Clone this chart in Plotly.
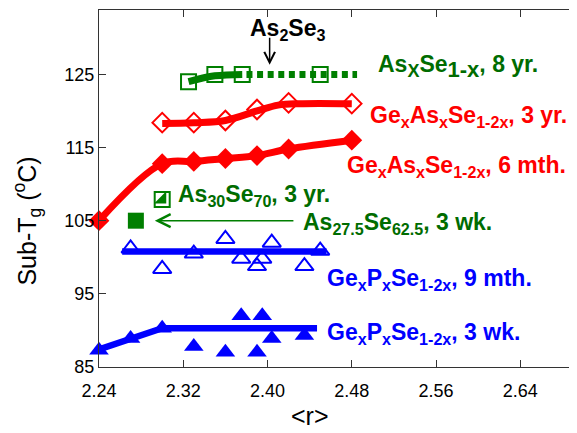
import plotly.graph_objects as go

# ---------------- data ----------------
# As_xSe_(1-x), 8 yr.
r_asse_sq = [2.325, 2.35, 2.376, 2.45]
t_asse_sq = [124.0, 125.0, 125.0, 125.0]
r_asse_fit = [2.325, 2.35, 2.376]
t_asse_fit = [124.0, 124.8, 125.0]
r_asse_dot = [2.38, 2.485]
t_asse_dot = [125.0, 125.0]

# Ge_xAs_xSe_(1-2x), 3 yr.
r_geas_3yr = [2.30, 2.33, 2.36, 2.39, 2.42, 2.48]
t_geas_3yr = [118.4, 118.4, 118.7, 120.2, 121.1, 121.0]
r_geas_3yr_fit = [2.30, 2.33, 2.36, 2.39, 2.41, 2.43, 2.48]
t_geas_3yr_fit = [118.3, 118.4, 118.7, 120.0, 120.8, 121.0, 121.0]

# Ge_xAs_xSe_(1-2x), 6 mth.
r_geas_6m = [2.24, 2.30, 2.33, 2.36, 2.39, 2.42, 2.48]
t_geas_6m = [105.0, 112.8, 113.1, 113.5, 113.9, 114.8, 116.0]

# As30Se70, 3 yr.  /  As27.5Se62.5, 3 wk.
r_as30 = [2.30]
t_as30 = [107.9]
r_as275 = [2.275]
t_as275 = [105.0]

# Ge_xP_xSe_(1-2x), 9 mth.
r_gep_9m = [2.27, 2.30, 2.33, 2.36, 2.375, 2.39, 2.395, 2.404, 2.435, 2.45]
t_gep_9m = [101.2, 98.4, 100.5, 102.5, 99.8, 98.8, 99.8, 102.0, 98.8, 100.9]
r_gep_9m_fit = [2.262, 2.456]
t_gep_9m_fit = [100.8, 100.8]

# Ge_xP_xSe_(1-2x), 3 wk.
r_gep_3w = [2.24, 2.27, 2.30, 2.33, 2.36, 2.375, 2.39, 2.395, 2.404, 2.435]
t_gep_3w = [87.3, 88.9, 90.3, 87.8, 87.0, 92.0, 87.0, 92.0, 88.9, 89.3]
r_gep_3w_fit = [2.24, 2.27, 2.30, 2.447]
t_gep_3w_fit = [87.4, 88.8, 90.3, 90.3]

# axis ticks
x_ticks = [2.24, 2.32, 2.40, 2.48, 2.56, 2.64]
x_ticklabels = ["2.24", "2.32", "2.40", "2.48", "2.56", "2.64"]
y_ticks = [85, 95, 105, 115, 125]
y_ticklabels = ["85", "95", "105", "115", "125"]

# labels
lab_text = [
    "As<sub>2</sub>Se<sub>3</sub>",
    "As<sub><span style='font-size:18px'>X</span></sub>Se<sub><span style='font-size:22px'>1-x</span></sub>, 8 yr.",
    "Ge<sub>x</sub>As<sub>x</sub>Se<sub>1-2x</sub>, 3 yr.",
    "Ge<sub>x</sub>As<sub>x</sub>Se<sub>1-2x</sub>, 6 mth.",
    "As<sub>30</sub>Se<sub>70</sub>, 3 yr.",
    "As<sub>27.5</sub>Se<sub>62.5</sub>, 3 wk.",
    "Ge<sub>x</sub>P<sub>x</sub>Se<sub>1-2x</sub>, 9 mth.",
    "Ge<sub>x</sub>P<sub>x</sub>Se<sub>1-2x</sub>, 3 wk.",
]
lab_x = [2.381, 2.503, 2.495, 2.474, 2.313, 2.432, 2.455, 2.455]
lab_y = [131.2, 126.1, 119.3, 112.4, 108.4, 104.6, 96.9, 89.6]

RED = "#FF0000"
BLUE = "#0000FF"
GREEN = "#007F00"
GREEN_TXT = "#006C00"
lab_col = ["black", GREEN_TXT, RED, RED, GREEN_TXT, GREEN_TXT, BLUE, BLUE]

FONT = "Liberation Sans, Arial, sans-serif"

fig = go.Figure()

# ---- lines ----
fig.add_trace(go.Scatter(x=r_geas_3yr_fit, y=t_geas_3yr_fit, mode="lines",
                         line=dict(color=RED, width=7, shape="spline"), cliponaxis=False))
fig.add_trace(go.Scatter(x=r_geas_6m, y=t_geas_6m, mode="lines",
                         line=dict(color=RED, width=7, shape="spline"), cliponaxis=False))
fig.add_trace(go.Scatter(x=r_gep_9m_fit, y=t_gep_9m_fit, mode="lines",
                         line=dict(color=BLUE, width=6.5), cliponaxis=False))
fig.add_trace(go.Scatter(x=r_gep_3w_fit, y=t_gep_3w_fit, mode="lines",
                         line=dict(color=BLUE, width=6.5), cliponaxis=False))
fig.add_trace(go.Scatter(x=r_asse_fit, y=t_asse_fit, mode="lines",
                         line=dict(color=GREEN, width=7, shape="spline"), cliponaxis=False))
fig.add_trace(go.Scatter(x=r_asse_dot, y=t_asse_dot, mode="lines",
                         line=dict(color=GREEN, width=7, dash="6px,4.6px"), cliponaxis=False))

# ---- markers ----
fig.add_trace(go.Scatter(x=r_asse_sq, y=t_asse_sq, mode="markers",
                         marker=dict(symbol="square-open", size=15, color=GREEN, line=dict(width=2)),
                         cliponaxis=False))
fig.add_trace(go.Scatter(x=r_geas_3yr, y=t_geas_3yr, mode="markers",
                         marker=dict(symbol="diamond-open", size=15, color=RED, line=dict(width=2)),
                         cliponaxis=False))
fig.add_trace(go.Scatter(x=r_geas_6m, y=t_geas_6m, mode="markers",
                         marker=dict(symbol="diamond", size=16, color=RED, line=dict(width=0)),
                         cliponaxis=False))
fig.add_trace(go.Scatter(x=r_as30, y=t_as30, mode="markers",
                         marker=dict(symbol="triangle-se", size=13.5, color=GREEN, line=dict(width=0)),
                         cliponaxis=False))
fig.add_trace(go.Scatter(x=r_as30, y=t_as30, mode="markers",
                         marker=dict(symbol="square-open", size=15, color=GREEN, line=dict(width=2)),
                         cliponaxis=False))
fig.add_trace(go.Scatter(x=r_as275, y=t_as275, mode="markers",
                         marker=dict(symbol="square", size=16, color=GREEN, line=dict(width=0)),
                         cliponaxis=False))
fig.add_trace(go.Scatter(x=r_gep_9m, y=t_gep_9m, mode="markers",
                         marker=dict(symbol="triangle-up-open", size=16, color=BLUE, line=dict(width=2)),
                         cliponaxis=False))
fig.add_trace(go.Scatter(x=r_gep_3w, y=t_gep_3w, mode="markers",
                         marker=dict(symbol="triangle-up", size=17, color=BLUE, line=dict(width=0)),
                         cliponaxis=False))

# ---- text labels ----
for txt, xx, yy, cc in zip(lab_text, lab_x, lab_y, lab_col):
    fig.add_annotation(x=xx, y=yy, xref="x", yref="y", text=txt, showarrow=False,
                       xanchor="left", yanchor="middle",
                       font=dict(family=FONT, size=23, color=cc, weight="bold"))

# arrows
fig.add_annotation(x=2.402, y=126.3, ax=2.402, ay=130.2, xref="x", yref="y", axref="x", ayref="y",
                   text="", showarrow=True, arrowhead=5, arrowsize=1.4, arrowwidth=1.5,
                   arrowcolor="black", standoff=0, startstandoff=0)
fig.add_annotation(x=2.293, y=105.0, ax=2.426, ay=105.0, xref="x", yref="y", axref="x", ayref="y",
                   text="", showarrow=True, arrowhead=5, arrowsize=1.7, arrowwidth=1.5,
                   arrowcolor=GREEN, standoff=0, startstandoff=0)

# axis titles
fig.add_annotation(x=-0.152, y=0.41, xref="paper", yref="paper", textangle=-90,
                   text="Sub-T<sub>g</sub> (<sup>o</sup>C)", showarrow=False,
                   xanchor="center", yanchor="middle",
                   font=dict(family=FONT, size=25, color="black"))
fig.add_annotation(x=0.445, y=-0.138, xref="paper", yref="paper", borderpad=0,
                   text="&lt;r&gt;", showarrow=False, xanchor="center", yanchor="middle",
                   font=dict(family=FONT, size=25, color="black"))

AX = "#333333"
fig.update_xaxes(range=[2.24, 2.69], tickvals=x_ticks, ticktext=x_ticklabels,
                 ticks="inside", ticklen=7, tickwidth=1.2, tickcolor=AX,
                 showline=True, linecolor=AX, linewidth=1.2, mirror="ticks",
                 showgrid=False, zeroline=False, ticklabelstandoff=7,
                 tickfont=dict(family=FONT, size=18, color="black"))
fig.update_yaxes(range=[85, 133.8], tickvals=y_ticks, ticktext=y_ticklabels,
                 ticks="inside", ticklen=7, tickwidth=1.2, tickcolor=AX,
                 showline=True, linecolor=AX, linewidth=1.2, mirror=True,
                 showgrid=False, zeroline=False,
                 tickfont=dict(family=FONT, size=18, color="black"))

# page body adds an 8px offset, so the figure is 8px smaller and margins compensate
fig.update_layout(width=569, height=425, margin=dict(l=91, r=4, t=2, b=66),
                  plot_bgcolor="white", paper_bgcolor="white", showlegend=False,
                  font=dict(family=FONT, size=18, color="black"))

fig.write_html("out.html")
